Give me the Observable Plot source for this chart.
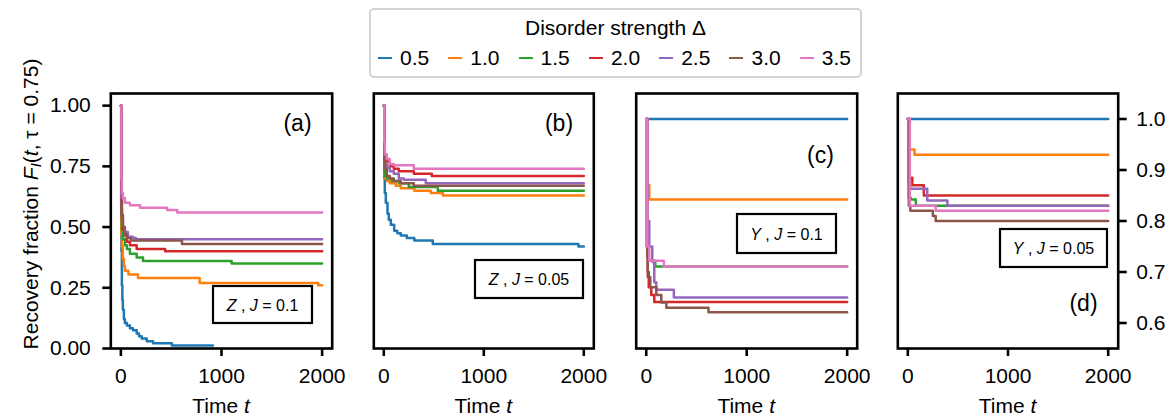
<!DOCTYPE html>
<html><head><meta charset="utf-8">
<script src="https://cdn.jsdelivr.net/npm/d3@7"></script>
<script src="https://cdn.jsdelivr.net/npm/@observablehq/plot@0.6"></script>
<style>
body{margin:0;background:#fff;font-family:"Liberation Sans",Arial,Helvetica,sans-serif;}
#wrap{position:relative;width:1172px;height:418px;overflow:hidden;background:#fff;}
.panel{position:absolute;top:0;}
#legend{position:absolute;left:369px;top:8px;width:489px;height:66px;border:2px solid #d3d3d3;border-radius:5px;background:#fff;color:#000;}
#legend .ltitle{position:absolute;left:0;right:0;top:6px;line-height:24px;text-align:center;font-size:21px;}
#legend .litems{position:absolute;left:7px;top:36px;height:24px;display:flex;}
#legend .item{width:70.3px;display:flex;align-items:center;line-height:24px;font-size:21px;}
#legend .sw{width:14px;height:2.8px;margin-right:8px;}
</style></head><body><div id="wrap"></div>
<script>
const deltas = ["0.5","1.0","1.5","2.0","2.5","3.0","3.5"];
const colors = ["#1f77b4","#ff7f0e","#2ca02c","#d62728","#9467bd","#8c564b","#e377c2"];
const xTicks = [0, 1000, 2000];
const yTicksZ = [0, 0.25, 0.5, 0.75, 1.0];
const yTicksY = [0.6, 0.7, 0.8, 0.9, 1.0];

// (a) Z, J = 0.1 : one [t, F] step list per disorder strength
const panelA = [
  [[0,1],[3,0.6],[6,0.4],[10,0.26],[15,0.2],[20,0.16],[30,0.12],[40,0.105],[60,0.095],[90,0.083],[120,0.075],[157,0.062],[180,0.05],[207,0.041],[257,0.03],[320,0.022],[507,0.012],[915,0.012]],
  [[0,1],[5,0.47],[10,0.42],[20,0.37],[30,0.34],[40,0.32],[75,0.305],[170,0.29],[783,0.27],[1960,0.26],[2000,0.26]],
  [[0,1],[5,0.55],[10,0.49],[20,0.45],[40,0.425],[60,0.41],[90,0.39],[157,0.375],[220,0.36],[1100,0.35],[2000,0.35]],
  [[0,1],[5,0.58],[10,0.53],[20,0.49],[40,0.465],[60,0.44],[90,0.425],[157,0.41],[440,0.40],[2000,0.40]],
  [[0,1],[5,0.62],[10,0.55],[20,0.5],[40,0.48],[70,0.46],[120,0.455],[150,0.45],[2000,0.45]],
  [[0,1],[5,0.65],[10,0.55],[20,0.5],[35,0.47],[60,0.455],[100,0.445],[607,0.43],[2000,0.43]],
  [[0,1],[5,0.7],[10,0.64],[20,0.62],[40,0.60],[90,0.59],[190,0.58],[460,0.57],[560,0.56],[2000,0.56]]
];
// (b) Z, J = 0.05
const panelB = [
  [[0,1],[5,0.7],[10,0.64],[20,0.6],[37,0.555],[50,0.53],[70,0.51],[104,0.485],[135,0.475],[170,0.465],[230,0.455],[305,0.445],[490,0.43],[1946,0.42],[2000,0.42]],
  [[0,1],[5,0.72],[10,0.7],[30,0.69],[60,0.68],[120,0.67],[170,0.66],[305,0.65],[470,0.64],[590,0.63],[2000,0.63]],
  [[0,1],[5,0.73],[10,0.71],[30,0.7],[80,0.69],[150,0.68],[250,0.665],[540,0.65],[2000,0.65]],
  [[0,1],[5,0.82],[10,0.79],[30,0.77],[60,0.75],[100,0.74],[150,0.73],[300,0.72],[480,0.71],[2000,0.71]],
  [[0,1],[5,0.8],[10,0.76],[30,0.745],[60,0.73],[100,0.72],[150,0.7],[200,0.695],[420,0.68],[2000,0.68]],
  [[0,1],[5,0.78],[10,0.74],[30,0.71],[60,0.7],[100,0.69],[170,0.68],[300,0.67],[2000,0.67]],
  [[0,1],[5,0.85],[10,0.8],[30,0.78],[60,0.76],[100,0.755],[300,0.74],[2000,0.74]]
];
// (c) Y, J = 0.1
const panelC = [
  [[0,1],[2000,1]],
  [[0,1],[8,0.87],[30,0.842],[2000,0.842]],
  [[0,1],[10,0.73],[20,0.722],[90,0.711],[2000,0.711]],
  [[0,1],[8,0.75],[15,0.7],[25,0.67],[50,0.655],[80,0.641],[2000,0.641]],
  [[0,1],[10,0.8],[30,0.75],[60,0.72],[80,0.68],[100,0.665],[275,0.65],[2000,0.65]],
  [[0,1],[5,0.75],[15,0.69],[40,0.67],[100,0.655],[150,0.64],[200,0.63],[620,0.621],[2000,0.621]],
  [[0,1],[10,0.75],[30,0.722],[175,0.711],[2000,0.711]]
];
// (d) Y, J = 0.05
const panelD = [
  [[0,1],[2000,1]],
  [[0,1],[15,0.94],[67,0.93],[2000,0.93]],
  [[0,1],[10,0.845],[30,0.842],[80,0.83],[2000,0.83]],
  [[0,1],[15,0.885],[45,0.87],[160,0.85],[2000,0.85]],
  [[0,1],[10,0.875],[25,0.863],[194,0.84],[395,0.83],[2000,0.83]],
  [[0,1],[10,0.83],[25,0.82],[250,0.81],[278,0.80],[2000,0.80]],
  [[0,1],[20,0.83],[278,0.82],[2000,0.82]]
];

const FONT = '"Liberation Sans", Arial, Helvetica, sans-serif';
const wrap = document.getElementById("wrap");

function rows(panel) {
  return panel.flatMap((pts, i) => pts.map(([t, v]) => ({t, v, delta: deltas[i]})));
}

function makePanel(cfg) {
  const marks = [
    Plot.line(rows(cfg.data), {x: "t", y: "v", z: "delta", stroke: "delta", curve: "step-after", strokeWidth: 2.5}),
    Plot.frame({stroke: "black", strokeWidth: 2.6}),
    Plot.axisX({ticks: xTicks, tickFormat: d3.format("d"), tickSize: 8, tickPadding: 12, strokeWidth: 2.6, fontSize: 21, label: null})
  ];
  if (cfg.yTicks) {
    marks.push(Plot.axisY({anchor: cfg.yAnchor, ticks: cfg.yTicks, tickFormat: d3.format(cfg.yFmt), tickSize: 8, tickPadding: cfg.yPad, strokeWidth: 2.6, fontSize: 21, label: null}));
  }
  const svg = Plot.plot({
    width: cfg.width, height: 418,
    marginLeft: cfg.ml, marginRight: cfg.mr, marginTop: 93, marginBottom: 70,
    style: {background: "transparent", fontFamily: FONT, fontSize: "21px", color: "black", overflow: "visible"},
    x: {domain: [-100, 2100], axis: null},
    y: {domain: cfg.yDomain, axis: null},
    color: {domain: deltas, range: colors},
    marks
  });
  svg.classList.add("panel");
  svg.style.left = cfg.left + "px";
  const s = d3.select(svg);
  const L = cfg.left;
  const fx0 = cfg.ml, fx1 = cfg.width - cfg.mr;
  // x label "Time t"
  const xl = s.append("text").attr("x", (fx0 + fx1) / 2).attr("y", 413)
    .attr("text-anchor", "middle").attr("font-size", 21).attr("font-family", FONT).attr("fill", "black");
  xl.append("tspan").text("Time ");
  xl.append("tspan").attr("font-style", "italic").text("t");
  // panel letter
  s.append("text").attr("x", cfg.letter[0] - L).attr("y", cfg.letter[1])
    .attr("text-anchor", "middle").attr("dominant-baseline", "central")
    .attr("font-size", 23).attr("font-family", FONT).attr("fill", "black").text(cfg.letterText);
  // annotation box
  const [bx, by, bw, bh] = cfg.box;
  const g = s.append("g");
  g.append("rect").attr("x", bx - L).attr("y", by).attr("width", bw).attr("height", bh)
    .attr("fill", "white").attr("stroke", "black").attr("stroke-width", 2.2);
  const bt = g.append("text").attr("x", bx - L + bw / 2).attr("y", by + bh / 2)
    .attr("text-anchor", "middle").attr("dominant-baseline", "central")
    .attr("font-size", 16).attr("font-family", FONT).attr("fill", "black");
  bt.append("tspan").attr("font-style", "italic").text(cfg.op);
  bt.append("tspan").text(" , ");
  bt.append("tspan").attr("font-style", "italic").text("J");
  bt.append("tspan").text(" = " + cfg.J);
  if (cfg.ylabel) {
    const yl = s.append("text").attr("transform", "translate(30,204) rotate(-90)")
      .attr("text-anchor", "middle").attr("dominant-baseline", "central")
      .attr("font-size", 21).attr("font-family", FONT).attr("fill", "black");
    yl.append("tspan").text("Recovery fraction ");
    yl.append("tspan").attr("font-style", "italic").text("F");
    yl.append("tspan").attr("font-style", "italic").attr("font-size", 15).attr("dy", 5).text("I");
    yl.append("tspan").attr("dy", -5).text("(");
    yl.append("tspan").attr("font-style", "italic").text("t");
    yl.append("tspan").text(", τ = 0.75)");
  }
  wrap.appendChild(svg);
}

makePanel({data: panelA, left: 0, width: 352, ml: 110.3, mr: 20.3, yDomain: [0, 1.05], yTicks: yTicksZ, yFmt: ".2f", yAnchor: "left", yPad: 12,
  letter: [297.5, 123], letterText: "(a)", box: [213, 286, 99, 37], op: "Z", J: "0.1", ylabel: true});
makePanel({data: panelB, left: 352, width: 262, ml: 21.3, mr: 20.7, yDomain: [0, 1.05],
  letter: [559, 123], letterText: "(b)", box: [475, 260, 108, 38], op: "Z", J: "0.05"});
makePanel({data: panelC, left: 614, width: 262, ml: 21.7, mr: 19.3, yDomain: [0.55, 1.05],
  letter: [820.5, 155], letterText: "(c)", box: [737, 214, 99, 39], op: "Y", J: "0.1"});
makePanel({data: panelD, left: 876, width: 296, ml: 21.3, mr: 54.3, yDomain: [0.55, 1.05], yTicks: yTicksY, yFmt: ".1f", yAnchor: "right", yPad: 10,
  letter: [1083.5, 303], letterText: "(d)", box: [1000, 229, 107, 38], op: "Y", J: "0.05"});

// legend
const leg = document.createElement("div");
leg.id = "legend";
const lt = document.createElement("div");
lt.className = "ltitle";
lt.textContent = "Disorder strength Δ";
leg.appendChild(lt);
const li = document.createElement("div");
li.className = "litems";
deltas.forEach((d, i) => {
  const it = document.createElement("div");
  it.className = "item";
  const sw = document.createElement("span");
  sw.className = "sw";
  sw.style.background = colors[i];
  it.appendChild(sw);
  const lab = document.createElement("span");
  lab.textContent = d;
  it.appendChild(lab);
  li.appendChild(it);
});
leg.appendChild(li);
wrap.appendChild(leg);
</script></body></html>
